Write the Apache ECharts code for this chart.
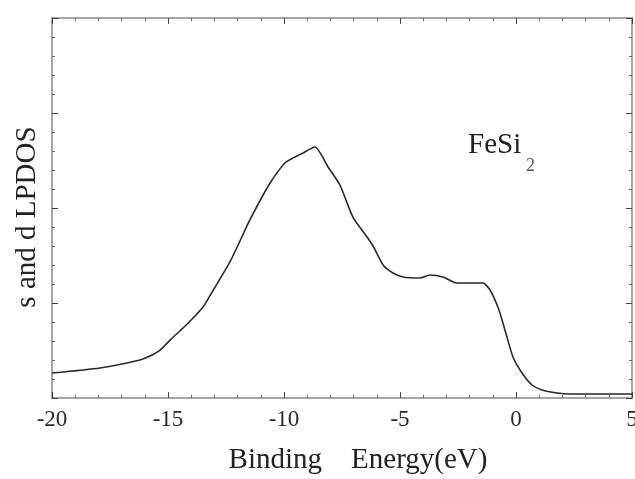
<!DOCTYPE html>
<html>
<head>
<meta charset="utf-8">
<script src="https://cdn.jsdelivr.net/npm/echarts@6/dist/echarts.min.js"></script>
<style>html,body{margin:0;padding:0;background:#fff;}#c{width:635px;height:479px;}</style>
</head>
<body>
<div id="c"></div>
<script>
const energy = [-20, -17.93, -16.21, -15.78, -15.34, -14.91, -14.35, -13.92, -13.49, -13.10, -12.33, -11.47, -10.60, -9.96, -9.18, -8.66, -8.10, -7.59, -7.03, -6.42, -6.16, -5.73, -5.30, -4.87, -4.14, -3.71, -3.15, -2.54, -1.98, -1.42, -1.12, -0.78, -0.60, -0.39, -0.13, 0.26, 0.69, 1.12, 1.77, 2.33, 3.75, 5];
const lpdos = [0.263, 0.316, 0.40, 0.442, 0.505, 0.61, 0.737, 0.842, 0.958, 1.116, 1.432, 1.874, 2.263, 2.474, 2.579, 2.642, 2.432, 2.242, 1.905, 1.695, 1.60, 1.40, 1.316, 1.274, 1.263, 1.295, 1.274, 1.21, 1.21, 1.21, 1.137, 0.958, 0.821, 0.642, 0.432, 0.263, 0.137, 0.084, 0.053, 0.042, 0.042, 0.042];
const xTicks = [-20, -15, -10, -5, 0, 5];

const chart = echarts.init(document.getElementById('c'), null, {renderer: 'canvas'});
const serif = 'Liberation Serif';
const axisColor = '#888';
const baseAxis = {
  axisLine: {show: true, onZero: false, lineStyle: {color: axisColor, width: 1.5}},
  axisTick: {show: true, inside: true, length: 6, lineStyle: {color: '#444'}},
  minorTick: {show: true, splitNumber: 5, length: 3, lineStyle: {color: '#666'}},
  splitLine: {show: false},
  minorSplitLine: {show: false}
};
chart.setOption({
  animation: false,
  grid: {left: 52, right: 3, top: 18, bottom: 81, containLabel: false, outerBoundsMode: 'none'},
  xAxis: [
    Object.assign({}, baseAxis, {
      type: 'value', min: xTicks[0], max: xTicks[xTicks.length - 1], interval: 5,
      position: 'bottom',
      name: 'Binding    Energy(eV)', nameLocation: 'middle', nameGap: 48,
      nameTextStyle: {fontFamily: serif, fontSize: 29, color: '#222', padding: [0, 0, 0, 32]},
      axisLabel: {show: true, fontFamily: serif, fontSize: 23, color: '#2a2a2a', margin: 10,
        formatter: v => String(v)}
    }),
    Object.assign({}, baseAxis, {
      type: 'value', min: xTicks[0], max: xTicks[xTicks.length - 1], interval: 5,
      position: 'top', axisLabel: {show: false}
    })
  ],
  yAxis: [
    Object.assign({}, baseAxis, {
      type: 'value', min: 0, max: 4, interval: 1, position: 'left',
      axisLabel: {show: false}
    }),
    Object.assign({}, baseAxis, {
      type: 'value', min: 0, max: 4, interval: 1, position: 'right',
      axisLabel: {show: false}
    })
  ],
  graphic: [
    {
      type: 'text', x: 27, y: 217, rotation: Math.PI / 2,
      style: {text: 's and d LPDOS', font: '29px "Liberation Serif"', fill: '#222',
        align: 'center', verticalAlign: 'middle'}
    },
    {
      type: 'text', left: 468, top: 131,
      style: {text: 'FeSi', font: '29px "Liberation Serif"', fill: '#222'}
    },
    {
      type: 'text', left: 526, top: 157,
      style: {text: '2', font: '18px "Liberation Serif"', fill: '#555'}
    }
  ],
  series: [{
    type: 'line', xAxisIndex: 0, yAxisIndex: 0,
    data: energy.map((e, i) => [e, lpdos[i]]),
    showSymbol: false, smooth: 0.2,
    lineStyle: {color: '#2a2a2a', width: 1.6}
  }]
});
</script>
</body>
</html>
